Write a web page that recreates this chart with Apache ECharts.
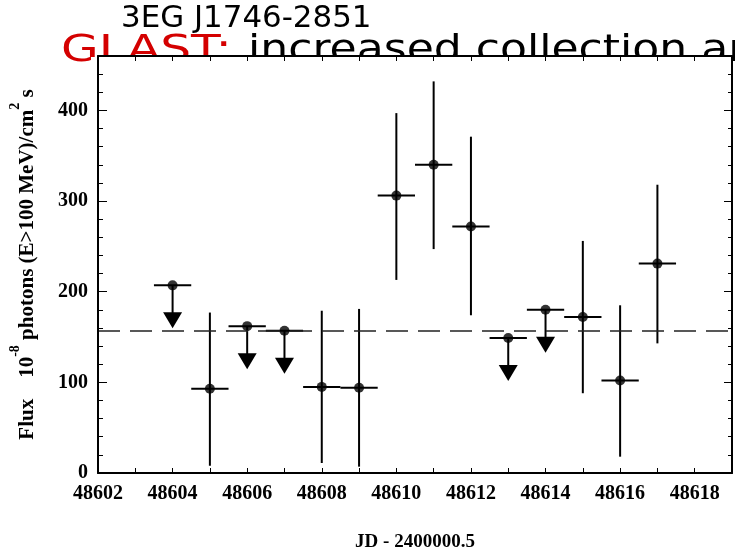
<!DOCTYPE html>
<html>
<head>
<meta charset="utf-8">
<script src="https://cdn.jsdelivr.net/npm/echarts@6/dist/echarts.min.js"></script>
<style>
  html, body { margin: 0; padding: 0; background: #fff; }
  #chart { width: 735px; height: 557px; }
</style>
</head>
<body>
<div id="chart"></div>
<script>
// Light curve of 3EG J1746-2851 (EGRET viewing period)
const days = [48604, 48605, 48606, 48607, 48608, 48609, 48610, 48611, 48612, 48613, 48614, 48615, 48616, 48617];
const flux = [207, 93, 162, 157, 95, 94, 306, 340, 272, 149, 180, 172, 102, 231];
// lower / upper ends of the error bars (null where only an upper limit exists)
const errLow  = [null, 8, null, null, 11, 7, 213, 247, 174, null, null, 88, 18, 143];
const errHigh = [null, 177, null, null, 179, 181, 397, 432, 371, null, null, 256, 185, 318];
const upperLimit = [true, false, true, true, false, false, false, false, false, true, true, false, false, false];
const meanFlux = 157;

const xMin = 48602, xMax = 48619;
const yMin = 0, yMax = 460;

const points = days.map((d, i) => [d, flux[i]]);
const bars = days.map((d, i) => [d, flux[i],
  errLow[i] == null ? '-' : errLow[i],
  errHigh[i] == null ? '-' : errHigh[i],
  upperLimit[i] ? 1 : 0]);

const serifFont = '"Liberation Serif", "DejaVu Serif", serif';
const handFont = '"Comic Sans MS", "DejaVu Sans", sans-serif';

const chart = echarts.init(document.getElementById('chart'), null, { renderer: 'canvas' });

const frameLine = { show: true, onZero: false, lineStyle: { color: '#000', width: 2 } };

function renderErrorBar(params, api) {
  const x = api.value(0), y = api.value(1);
  const lim = api.value(4);
  const c = api.coord([x, y]);
  const l = api.coord([x - 0.5, y]);
  const r = api.coord([x + 0.5, y]);
  const style = { stroke: '#000', lineWidth: 2 };
  const children = [
    { type: 'line', shape: { x1: l[0], y1: c[1], x2: r[0], y2: c[1] }, style }
  ];
  if (lim) {
    const shaft = 27, tip = 43, half = 9.5;
    children.push({ type: 'line', shape: { x1: c[0], y1: c[1], x2: c[0], y2: c[1] + shaft + 1 }, style });
    children.push({ type: 'polygon', shape: { points: [[c[0] - half, c[1] + shaft], [c[0] + half, c[1] + shaft], [c[0], c[1] + tip]] },
      style: { fill: '#000' } });
  } else {
    const lo = api.coord([x, api.value(2)]);
    const hi = api.coord([x, api.value(3)]);
    children.push({ type: 'line', shape: { x1: c[0], y1: lo[1], x2: c[0], y2: hi[1] }, style });
  }
  return { type: 'group', children };
}

chart.setOption({
  backgroundColor: '#fff',
  animation: false,
  grid: { left: 90, right: 3, top: 56, bottom: 72, containLabel: false },
  graphic: [
    { type: 'text', x: 61, y: 51, scaleX: 1.28, z: 0,
      style: { text: 'GLAST:', fill: '#d40000', font: '38px ' + handFont, verticalAlign: 'middle', align: 'left' } },
    { type: 'text', x: 248, y: 51, scaleX: 1.16, z: 0,
      style: { text: 'increased collection area', fill: '#000', font: '38px ' + handFont, verticalAlign: 'middle', align: 'left' } },
    { type: 'text', x: 121, y: 19, scaleX: 1.03, z: 0,
      style: { text: '3EG J1746-2851', fill: '#000', font: '30px ' + handFont, verticalAlign: 'middle', align: 'left' } },
    { type: 'rect', z: 1, shape: { x: 91, y: 57, width: 640, height: 427 }, style: { fill: '#fff' } }
  ],
  xAxis: [
    {
      type: 'value', min: xMin, max: xMax, interval: 1, position: 'bottom', z: 5,
      name: 'JD - 2400000.5', nameLocation: 'middle', nameGap: 60,
      nameTextStyle: { fontFamily: serifFont, fontWeight: 'bold', fontSize: 19, color: '#000' },
      axisLine: frameLine,
      axisTick: { show: true, inside: true, length: 5, lineStyle: { color: '#000', width: 1 } },
      axisLabel: { margin: 11, fontFamily: serifFont, fontWeight: 'bold', fontSize: 20, color: '#000',
        formatter: v => (v % 2 === 0 ? String(v) : '') },
      splitLine: { show: false }
    },
    {
      type: 'value', min: xMin, max: xMax, interval: 1, position: 'top', z: 5,
      axisLine: frameLine,
      axisTick: { show: true, inside: true, length: 5, lineStyle: { color: '#000', width: 1 } },
      axisLabel: { show: false },
      splitLine: { show: false }
    }
  ],
  yAxis: [
    {
      type: 'value', min: yMin, max: yMax, interval: 100, position: 'left', z: 5,
      name: '{n|Flux    10}{s|-8}{n| photons (E>100 MeV)/cm}{s|2}{n| s}',
      nameLocation: 'middle', nameGap: 60, nameRotate: 90,
      nameTextStyle: {
        rich: {
          n: { fontFamily: serifFont, fontWeight: 'bold', fontSize: 21, color: '#000', lineHeight: 30, verticalAlign: 'bottom' },
          s: { fontFamily: serifFont, fontWeight: 'bold', fontSize: 14, color: '#000', lineHeight: 16, verticalAlign: 'top' }
        }
      },
      axisLine: frameLine,
      axisTick: { show: true, inside: true, length: 9, lineStyle: { color: '#000', width: 1 } },
      minorTick: { show: true, splitNumber: 5, length: 5, lineStyle: { color: '#000', width: 1 } },
      axisLabel: { margin: 10, showMaxLabel: false, fontFamily: serifFont, fontWeight: 'bold', fontSize: 20, color: '#000' },
      splitLine: { show: false }
    },
    {
      type: 'value', min: yMin, max: yMax, interval: 100, position: 'right', z: 5,
      axisLine: frameLine,
      axisTick: { show: true, inside: true, length: 8, lineStyle: { color: '#000', width: 1 } },
      minorTick: { show: true, splitNumber: 5, length: 4, lineStyle: { color: '#000', width: 1 } },
      axisLabel: { show: false },
      splitLine: { show: false }
    }
  ],
  series: [
    {
      type: 'custom', name: 'errors', xAxisIndex: 0, yAxisIndex: 0, z: 3,
      renderItem: renderErrorBar,
      encode: { x: 0, y: 1 },
      data: bars,
      clip: false
    },
    {
      type: 'scatter', name: 'flux', xAxisIndex: 0, yAxisIndex: 0, z: 4,
      symbol: 'circle', symbolSize: 10,
      itemStyle: { color: '#000' },
      data: points,
      markLine: {
        silent: true, symbol: 'none', label: { show: false },
        lineStyle: { color: '#222', width: 1.5, type: [22, 10] },
        data: [{ yAxis: meanFlux }]
      }
    }
  ]
});
</script>
</body>
</html>
